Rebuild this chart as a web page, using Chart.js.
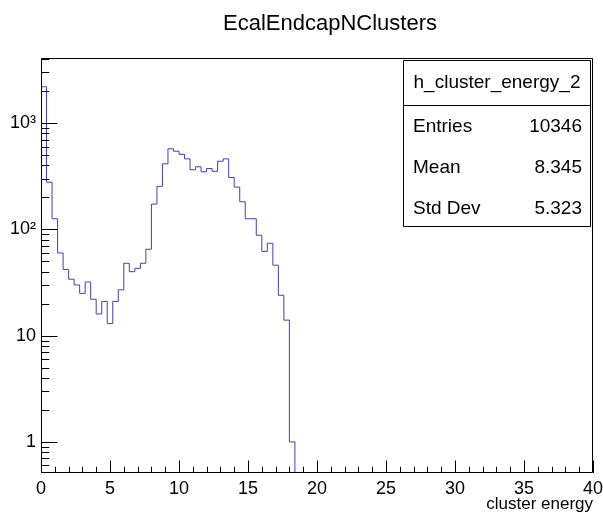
<!DOCTYPE html>
<html>
<head>
<meta charset="utf-8">
<title>EcalEndcapNClusters</title>
<script src="https://cdn.jsdelivr.net/npm/chart.js@4.4.1/dist/chart.umd.min.js"></script>
<style>
  html, body { margin: 0; padding: 0; background: #fff; }
  #wrap { width: 603px; height: 515px; }
</style>
</head>
<body>
<div id="wrap"><canvas id="h_cluster_energy"></canvas></div>
<script>
// h_cluster_energy_2 : 100 bins from 0 to 40, only the first 46 are filled
const binLow = 0;
const binWidth = 0.4;
const counts = [
  2200, 278, 126, 60, 42, 34, 30, 25, 32, 22,
  16, 21, 13, 21, 27, 48, 40, 43, 48, 65,
  173, 254, 414, 573, 544, 509, 461, 364, 388, 348,
  374, 352, 438, 461, 308, 250, 182, 126, 126, 88,
  62, 74, 46, 24, 14, 1
];

const xMin = 0;
const xMax = 40;
const xTicks = [0, 5, 10, 15, 20, 25, 30, 35, 40];
const yMin = 0.51;
const yMax = 4100;
const yDecades = [1, 10, 100, 1000];
const yDecadeLabels = ['1', '10', '10²', '10³'];

const histTitle = 'EcalEndcapNClusters';
const xTitle = 'cluster energy';
const statsName = 'h_cluster_energy_2';
const statsLabels = ['Entries', 'Mean', 'Std Dev'];
const statsValues = ['10346', '8.345', '5.323'];

(() => {
  'use strict'
  const FONT = "'Liberation Sans', Arial, Helvetica, sans-serif";
  const LINE = '#3f3fc0';

  // contour du TH1 : un point par bord gauche de bin, puis le bord droit du dernier
  // (stepped 'before' : horizontal jusqu'au point suivant, puis vertical)
  const below = yMin / 5;
  const points = [{ x: binLow, y: below }];
  counts.forEach((c, i) => points.push({ x: binLow + i * binWidth, y: c }));
  points.push({ x: binLow + counts.length * binWidth, y: counts[counts.length - 1] });
  points.push({ x: binLow + counts.length * binWidth, y: below });

  // cadre + graduations vers l'intérieur, titre et boîte de stats façon ROOT
  const rootFrame = {
    id: 'rootFrame',
    afterDraw(chart) {
      const { ctx, chartArea: a, scales } = chart;
      const xs = scales.x, ys = scales.y;
      ctx.save();
      ctx.strokeStyle = '#000';
      ctx.lineWidth = 1;
      ctx.beginPath();
      ctx.rect(a.left + 0.5, a.top + 0.5, a.right - a.left - 1, a.bottom - a.top - 1);
      ctx.stroke();

      // graduations en x
      ctx.beginPath();
      for (let v = xMin; v <= xMax; v += 1) {
        const px = Math.round(xs.getPixelForValue(v)) + 0.5;
        const len = v % 5 === 0 ? 12.5 : 6.2;
        ctx.moveTo(px, a.bottom);
        ctx.lineTo(px, a.bottom - len);
      }
      // graduations en y (log)
      for (let dec = 0.1; dec <= 1000; dec *= 10) {
        for (let k = 1; k < 10; k++) {
          const v = dec * k;
          if (v < yMin || v > yMax) continue;
          const py = Math.round(ys.getPixelForValue(v)) + 0.5;
          const len = k === 1 ? 16.5 : 8.3;
          ctx.moveTo(a.left, py);
          ctx.lineTo(a.left + len, py);
        }
      }
      ctx.stroke();

      // titre
      ctx.fillStyle = '#000';
      ctx.font = '22px ' + FONT;
      ctx.textAlign = 'center';
      ctx.textBaseline = 'middle';
      ctx.fillText(histTitle, 330, 24);

      // boîte de stats
      const bx = 403.5, by = 60.5, bw = 187, bh = 166;
      ctx.fillStyle = '#fff';
      ctx.fillRect(bx, by, bw, bh);
      ctx.beginPath();
      ctx.rect(bx, by, bw, bh);
      ctx.moveTo(bx, 105.5);
      ctx.lineTo(bx + bw, 105.5);
      ctx.stroke();
      ctx.fillStyle = '#000';
      ctx.font = '19px ' + FONT;
      ctx.fillText(statsName, bx + bw / 2, 83);
      statsLabels.forEach((lab, i) => {
        const y = 127 + i * 41;
        ctx.textAlign = 'left';
        ctx.fillText(lab, 413, y);
        ctx.textAlign = 'right';
        ctx.fillText(statsValues[i], 582, y);
      });
      ctx.restore();
    }
  };

  new Chart(document.getElementById('h_cluster_energy'), {
    type: 'line',
    data: {
      datasets: [{
        label: statsName,
        data: points,
        stepped: 'before',
        borderColor: LINE,
        borderWidth: 1,
        backgroundColor: 'transparent',
        pointRadius: 0,
        fill: false,
        clip: 0
      }]
    },
    options: {
      responsive: true,
      maintainAspectRatio: false,
      animation: false,
      events: [],
      layout: { padding: { top: 58, right: 10, left: 0, bottom: 0 } },
      plugins: {
        legend: { display: false },
        tooltip: { enabled: false },
        title: { display: false }
      },
      scales: {
        x: {
          type: 'linear',
          min: xMin,
          max: xMax,
          grid: { display: false, drawTicks: false },
          border: { display: false },
          afterBuildTicks: (s) => { s.ticks = xTicks.map(v => ({ value: v })); },
          afterFit: (s) => { s.height = 42; s.paddingLeft = 0; s.paddingRight = 0; },
          ticks: {
            autoSkip: false,
            maxRotation: 0,
            padding: 5,
            color: '#000',
            font: { family: FONT, size: 18 }
          },
          title: {
            display: true,
            text: xTitle,
            align: 'end',
            color: '#000',
            padding: { top: 0, bottom: 0 },
            font: { family: FONT, size: 17 }
          }
        },
        y: {
          type: 'logarithmic',
          min: yMin,
          max: yMax,
          grid: { display: false, drawTicks: false },
          border: { display: false },
          afterBuildTicks: (s) => { s.ticks = yDecades.map(v => ({ value: v })); },
          afterFit: (s) => { s.width = 41; s.paddingTop = 0; s.paddingBottom = 0; },
          ticks: {
            padding: 5,
            color: '#000',
            font: { family: FONT, size: 18 },
            callback: (v) => yDecadeLabels[yDecades.indexOf(v)]
          }
        }
      }
    },
    plugins: [rootFrame]
  });
})();
</script>
</body>
</html>
